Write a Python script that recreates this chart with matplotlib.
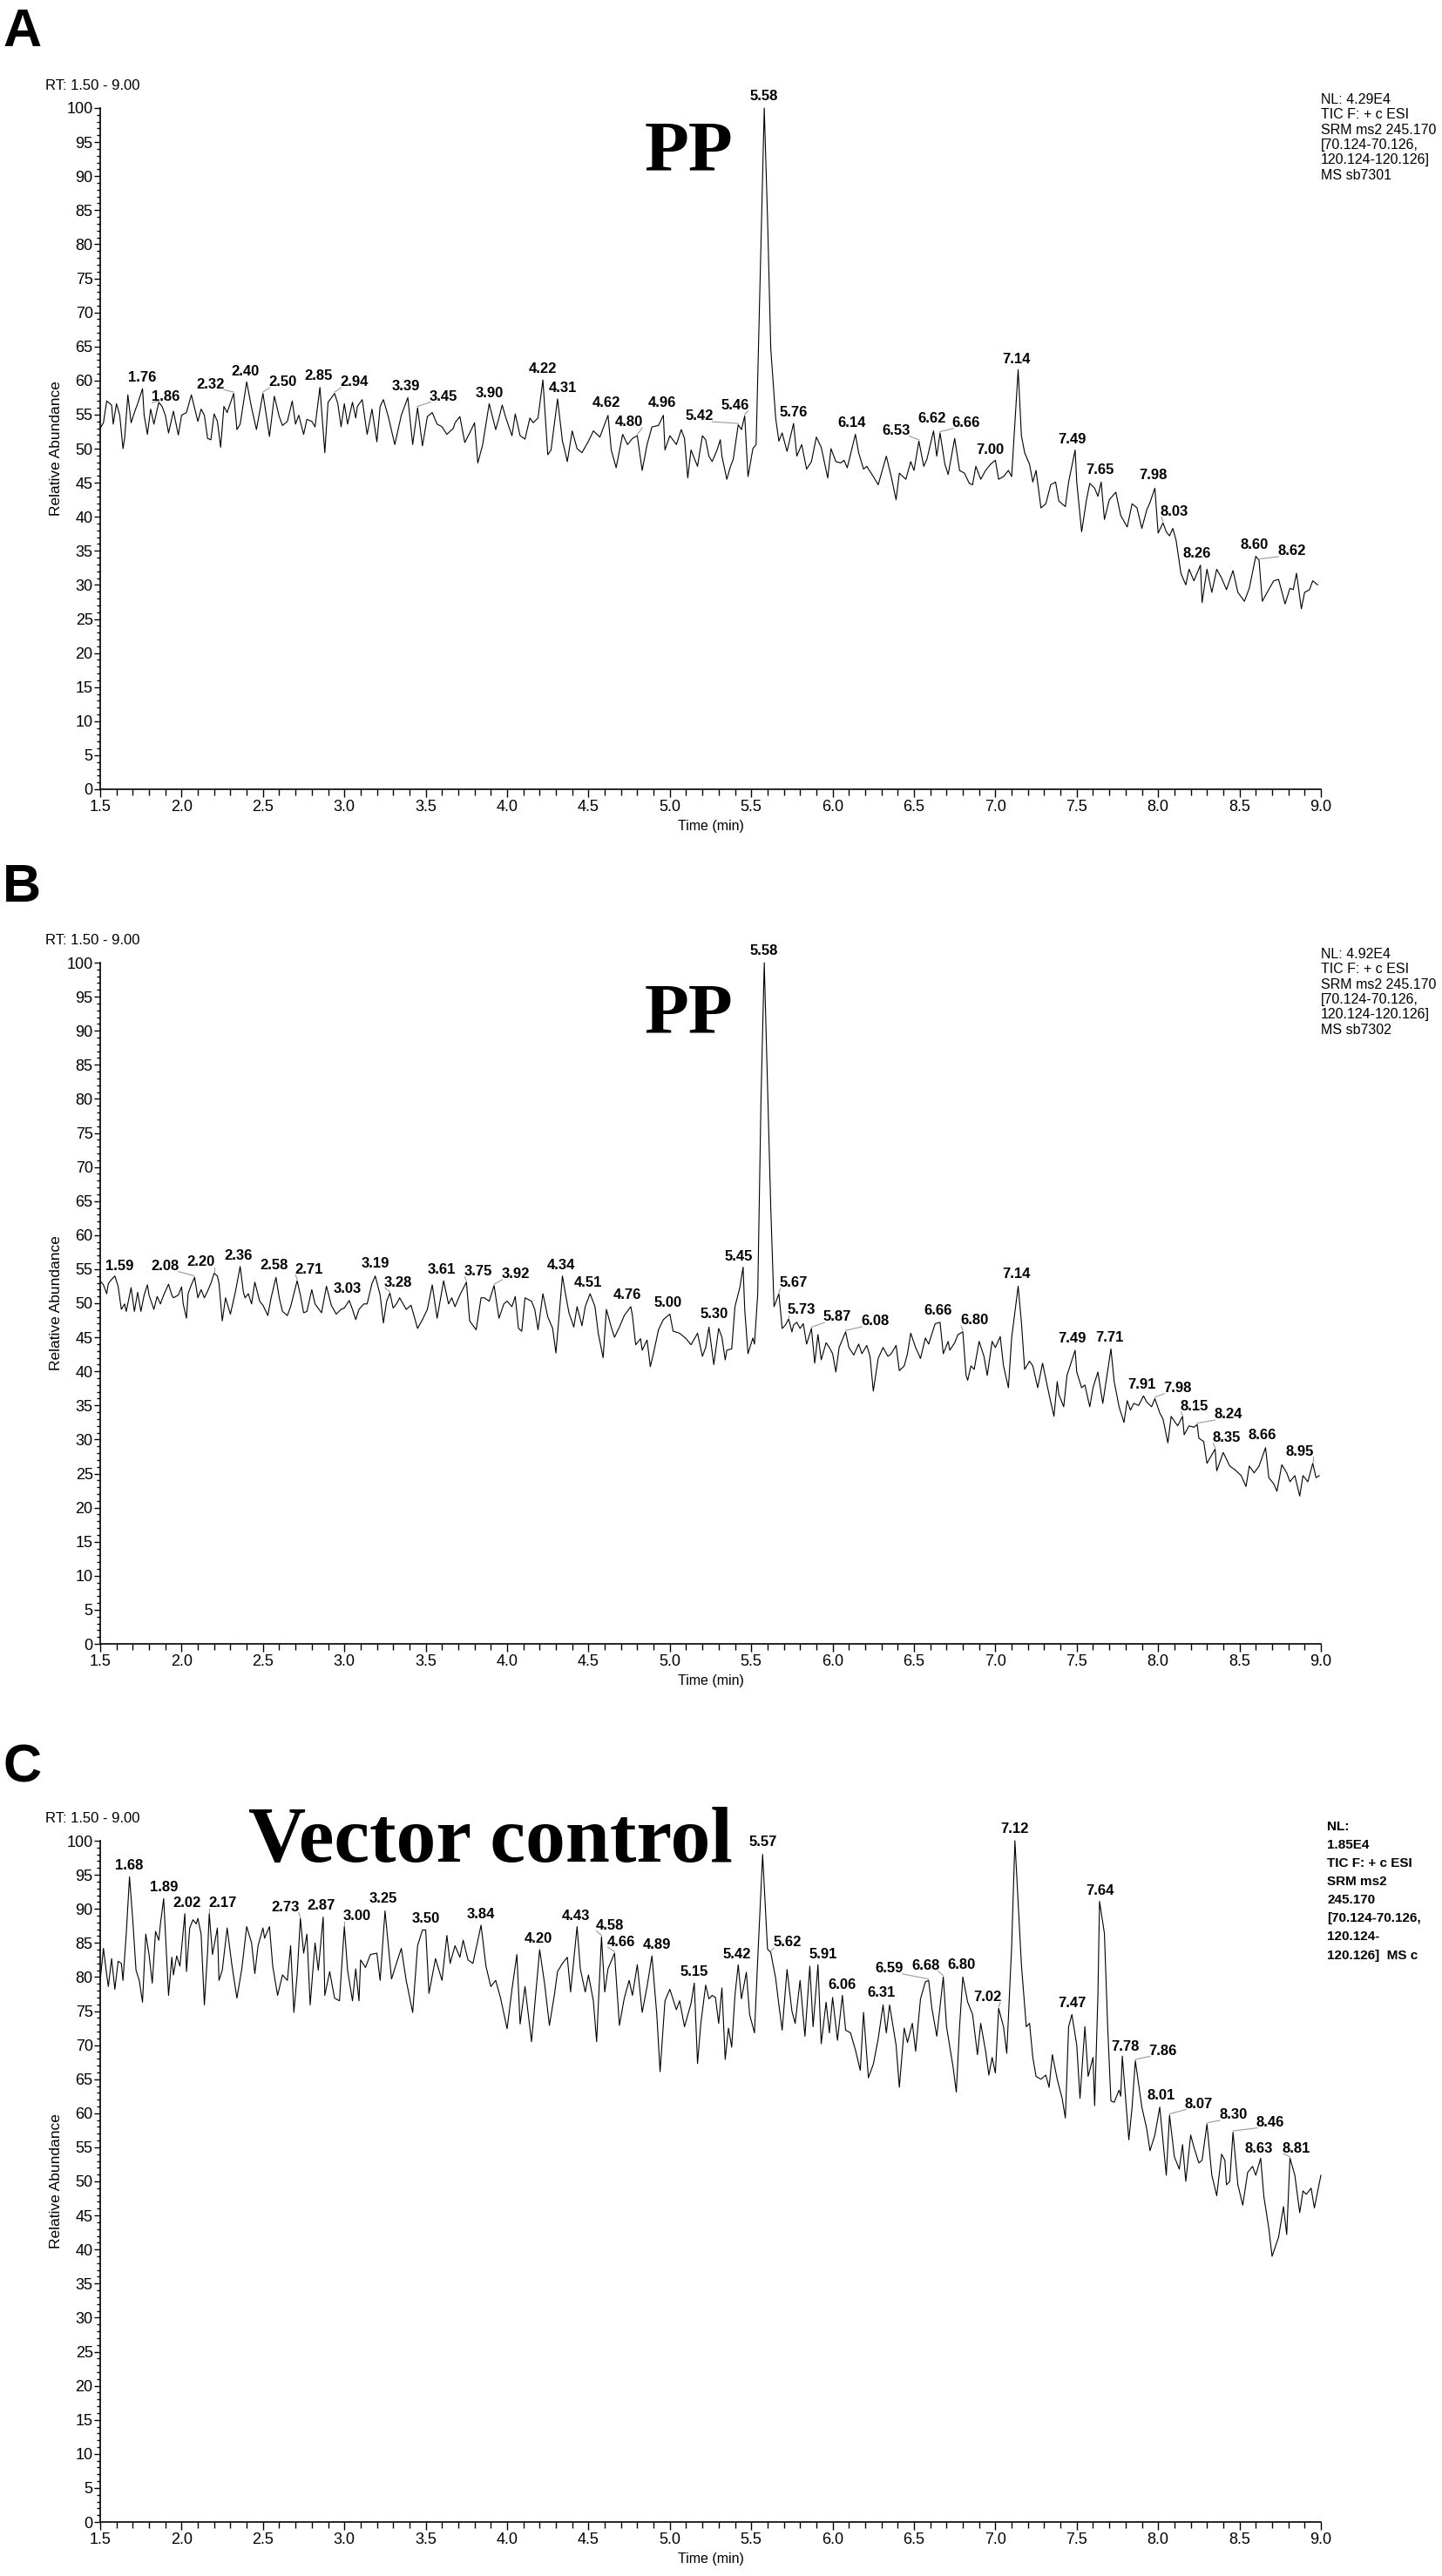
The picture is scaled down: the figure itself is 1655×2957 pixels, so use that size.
import numpy as np
import matplotlib
matplotlib.use('Agg')
import matplotlib.pyplot as plt
from matplotlib.ticker import MultipleLocator, FormatStrFormatter

plt.rcParams['font.family'] = ['Liberation Sans', 'DejaVu Sans']

# ---- panel A trace (time min, relative abundance %) ----
a_pts = [
    (1.50, 53.0), (1.52, 53.8), (1.54, 57.0), (1.57, 56.4), (1.58, 53.6), (1.60, 56.6), (1.62, 54.9),
    (1.64, 50.0), (1.65, 51.5), (1.67, 57.9), (1.69, 53.8), (1.71, 55.3), (1.73, 56.6), (1.76, 58.8),
    (1.77, 54.9), (1.79, 52.1), (1.81, 55.8), (1.83, 53.6), (1.86, 56.8), (1.88, 56.2), (1.90, 54.9),
    (1.92, 52.3), (1.95, 55.5), (1.98, 52.0), (2.00, 54.9), (2.03, 55.3), (2.06, 57.9), (2.10, 54.0),
    (2.12, 55.8), (2.14, 54.9), (2.16, 51.5), (2.18, 51.3), (2.20, 55.1), (2.22, 54.0), (2.24, 50.2),
    (2.26, 56.2), (2.28, 55.3), (2.32, 58.1), (2.34, 52.8), (2.36, 53.6), (2.40, 59.8), (2.43, 56.0),
    (2.46, 52.8), (2.50, 58.1), (2.54, 51.8), (2.57, 57.7), (2.60, 54.7), (2.62, 53.4), (2.65, 54.0),
    (2.68, 57.0), (2.70, 53.6), (2.72, 54.9), (2.75, 52.1), (2.77, 54.3), (2.80, 54.0), (2.82, 53.2),
    (2.85, 59.0), (2.88, 49.4), (2.90, 56.8), (2.94, 58.1), (2.96, 56.6), (2.98, 53.2), (3.00, 56.6),
    (3.02, 53.6), (3.05, 56.8), (3.07, 54.5), (3.08, 56.2), (3.11, 57.2), (3.14, 52.1), (3.17, 55.8),
    (3.20, 51.0), (3.22, 56.2), (3.24, 57.2), (3.27, 54.7), (3.31, 50.6), (3.35, 54.9), (3.39, 57.5),
    (3.42, 50.6), (3.45, 56.0), (3.48, 50.4), (3.51, 54.7), (3.54, 55.3), (3.57, 53.6), (3.60, 53.2),
    (3.63, 52.1), (3.67, 53.0), (3.68, 53.8), (3.71, 54.7), (3.74, 50.9), (3.77, 52.3), (3.80, 53.8),
    (3.82, 47.9), (3.85, 50.6), (3.89, 56.6), (3.93, 52.8), (3.95, 54.5), (3.97, 56.4), (3.99, 54.7),
    (4.03, 51.9), (4.05, 55.1), (4.08, 51.9), (4.11, 51.4), (4.14, 54.5), (4.16, 53.8), (4.19, 54.5),
    (4.22, 60.1), (4.25, 49.1), (4.27, 49.8), (4.31, 57.3), (4.34, 51.1), (4.35, 50.2), (4.37, 48.1),
    (4.40, 52.6), (4.43, 50.0), (4.46, 49.4), (4.50, 51.1), (4.53, 52.6), (4.57, 51.7), (4.62, 54.9),
    (4.64, 49.8), (4.67, 47.2), (4.71, 52.1), (4.74, 50.6), (4.77, 51.5), (4.80, 51.9), (4.83, 46.8),
    (4.86, 50.6), (4.89, 53.2), (4.93, 53.4), (4.96, 54.9), (4.97, 49.8), (5.00, 51.9), (5.04, 50.6),
    (5.07, 52.8), (5.09, 51.5), (5.11, 45.7), (5.13, 49.8), (5.17, 47.4), (5.20, 51.9), (5.22, 51.3),
    (5.24, 48.9), (5.26, 48.1), (5.29, 49.8), (5.31, 51.3), (5.32, 48.9), (5.35, 45.5), (5.37, 47.2),
    (5.39, 48.5), (5.42, 53.5), (5.44, 52.8), (5.46, 54.8), (5.48, 45.9), (5.49, 47.2), (5.51, 50.0),
    (5.53, 50.6), (5.56, 80.0), (5.58, 100.0), (5.60, 84.0), (5.62, 64.7), (5.65, 54.5), (5.67, 51.1),
    (5.69, 52.3), (5.72, 49.6), (5.76, 53.7), (5.78, 48.9), (5.81, 50.6), (5.84, 47.0), (5.87, 48.1),
    (5.90, 51.7), (5.93, 50.2), (5.97, 45.7), (5.99, 50.0), (6.02, 48.1), (6.05, 47.9), (6.07, 48.3),
    (6.09, 47.2), (6.14, 52.1), (6.16, 49.4), (6.19, 47.0), (6.21, 47.4), (6.25, 45.9), (6.28, 44.7),
    (6.30, 46.4), (6.33, 48.9), (6.36, 45.9), (6.39, 42.5), (6.41, 46.4), (6.45, 45.5), (6.48, 48.1),
    (6.50, 46.8), (6.53, 51.1), (6.56, 47.4), (6.58, 48.5), (6.62, 52.6), (6.64, 48.9), (6.66, 52.3),
    (6.69, 47.7), (6.71, 46.2), (6.75, 51.5), (6.78, 46.8), (6.81, 46.4), (6.84, 44.9), (6.86, 44.7),
    (6.88, 47.4), (6.91, 45.5), (6.94, 46.8), (6.97, 47.7), (7.00, 48.3), (7.02, 45.5), (7.05, 45.9),
    (7.08, 46.8), (7.10, 45.9), (7.14, 61.6), (7.16, 51.9), (7.18, 49.4), (7.21, 47.7), (7.23, 45.1),
    (7.25, 46.8), (7.28, 41.3), (7.31, 41.9), (7.34, 44.7), (7.37, 45.1), (7.39, 42.3), (7.43, 41.5),
    (7.45, 45.1), (7.49, 49.8), (7.50, 45.1), (7.53, 37.8), (7.56, 42.5), (7.58, 44.9), (7.61, 44.2),
    (7.63, 43.0), (7.65, 45.1), (7.67, 39.6), (7.70, 42.5), (7.74, 43.6), (7.77, 40.2), (7.81, 38.5),
    (7.84, 41.9), (7.87, 41.3), (7.90, 38.3), (7.93, 41.0), (7.95, 42.1), (7.98, 44.2), (8.00, 37.6),
    (8.03, 39.1), (8.05, 37.8), (8.07, 37.2), (8.09, 38.3), (8.11, 36.6), (8.14, 31.7), (8.17, 30.0),
    (8.19, 32.3), (8.22, 30.6), (8.26, 32.9), (8.27, 27.4), (8.30, 32.3), (8.33, 28.9), (8.36, 32.3),
    (8.39, 31.0), (8.42, 29.3), (8.46, 32.1), (8.49, 28.9), (8.53, 27.6), (8.56, 29.5), (8.60, 34.2),
    (8.62, 33.6), (8.64, 27.6), (8.67, 28.9), (8.71, 30.6), (8.74, 30.8), (8.78, 27.2), (8.81, 29.5),
    (8.83, 29.3), (8.85, 31.7), (8.88, 26.5), (8.90, 28.9), (8.93, 29.3), (8.95, 30.6), (8.98, 30.0),
]
a_lab = [1.76, 1.86, 2.32, 2.40, 2.50, 2.85, 2.94, 3.39, 3.45, 3.90, 4.22, 4.31, 4.62, 4.80, 4.96, 5.42,
         5.46, 5.58, 5.76, 6.14, 6.53, 6.62, 6.66, 7.00, 7.14, 7.49, 7.65, 7.98, 8.03, 8.26, 8.60, 8.62]
a_lab_x = [1.76, 1.90, 2.18, 2.39, 2.62, 2.84, 3.06, 3.38, 3.61, 3.89, 4.22, 4.34, 4.61, 4.75, 4.95, 5.18,
           5.40, 5.58, 5.76, 6.12, 6.39, 6.61, 6.82, 6.97, 7.13, 7.47, 7.64, 7.97, 8.10, 8.24, 8.59, 8.82]
a_lab_y = [59.5, 56.6, 58.5, 60.4, 58.8, 59.7, 58.8, 58.2, 56.7, 57.2, 60.8, 57.9, 55.7, 52.9, 55.7, 53.8,
           55.4, 100.8, 54.4, 52.8, 51.7, 53.4, 52.8, 48.8, 62.2, 50.4, 45.9, 45.1, 39.8, 33.6, 34.9, 34.0]

# ---- panel B trace ----
b_pts = [
    (1.50, 53.3), (1.52, 52.7), (1.54, 51.4), (1.55, 52.9), (1.57, 53.5), (1.59, 54.0), (1.61, 52.5),
    (1.63, 49.1), (1.65, 49.9), (1.66, 48.8), (1.69, 52.3), (1.71, 48.8), (1.73, 51.6), (1.75, 48.8),
    (1.77, 51.2), (1.79, 52.7), (1.80, 51.2), (1.83, 49.1), (1.85, 51.0), (1.87, 49.9), (1.89, 51.2),
    (1.92, 52.8), (1.94, 51.2), (1.95, 50.8), (1.98, 51.2), (2.00, 52.4), (2.01, 49.9), (2.03, 47.8),
    (2.04, 51.4), (2.06, 52.7), (2.08, 53.8), (2.10, 50.8), (2.12, 52.0), (2.14, 50.8), (2.16, 51.8),
    (2.18, 52.9), (2.20, 54.4), (2.22, 54.0), (2.23, 52.9), (2.25, 47.4), (2.27, 50.8), (2.30, 48.4),
    (2.33, 51.6), (2.36, 55.4), (2.38, 51.6), (2.39, 50.8), (2.41, 51.4), (2.43, 49.9), (2.45, 53.1),
    (2.48, 50.3), (2.50, 49.7), (2.53, 48.2), (2.55, 50.8), (2.58, 53.8), (2.60, 50.8), (2.62, 48.8),
    (2.65, 48.2), (2.67, 49.5), (2.71, 53.3), (2.73, 51.2), (2.75, 48.6), (2.77, 48.8), (2.80, 52.0),
    (2.82, 49.9), (2.86, 48.6), (2.89, 52.5), (2.92, 49.7), (2.95, 48.4), (2.98, 49.1), (3.00, 49.3),
    (3.03, 50.4), (3.05, 49.1), (3.07, 47.6), (3.09, 49.1), (3.12, 49.9), (3.14, 49.9), (3.17, 52.9),
    (3.19, 54.0), (3.22, 51.2), (3.24, 47.1), (3.26, 50.3), (3.28, 51.5), (3.30, 49.3), (3.32, 49.9),
    (3.34, 50.8), (3.38, 49.1), (3.41, 49.7), (3.45, 46.3), (3.48, 47.6), (3.51, 49.1), (3.54, 52.7),
    (3.57, 47.8), (3.61, 53.3), (3.64, 49.9), (3.66, 50.8), (3.68, 49.5), (3.71, 51.2), (3.75, 53.1),
    (3.77, 47.4), (3.81, 46.1), (3.84, 50.8), (3.86, 50.8), (3.89, 50.3), (3.92, 52.6), (3.95, 47.8),
    (3.98, 49.9), (4.00, 50.3), (4.03, 49.5), (4.05, 51.0), (4.07, 46.3), (4.09, 45.9), (4.11, 50.8),
    (4.15, 50.3), (4.17, 49.1), (4.19, 46.1), (4.22, 51.4), (4.25, 48.0), (4.28, 46.3), (4.30, 42.7),
    (4.34, 54.0), (4.36, 51.2), (4.38, 48.6), (4.41, 46.5), (4.43, 49.5), (4.46, 46.7), (4.48, 49.5),
    (4.51, 51.4), (4.54, 49.5), (4.56, 45.6), (4.59, 42.0), (4.61, 49.1), (4.64, 46.5), (4.66, 45.0),
    (4.69, 46.5), (4.72, 48.2), (4.76, 49.5), (4.77, 48.2), (4.79, 43.9), (4.82, 44.8), (4.83, 43.1),
    (4.86, 44.6), (4.88, 40.7), (4.90, 42.7), (4.93, 46.1), (4.96, 47.6), (5.00, 48.4), (5.02, 45.9),
    (5.06, 45.6), (5.10, 44.8), (5.13, 43.9), (5.17, 45.6), (5.20, 42.2), (5.22, 43.5), (5.24, 46.5),
    (5.27, 41.0), (5.30, 46.3), (5.32, 45.0), (5.34, 41.7), (5.35, 43.1), (5.38, 43.3), (5.40, 49.5),
    (5.43, 52.3), (5.45, 55.3), (5.46, 49.1), (5.48, 42.6), (5.51, 44.9), (5.52, 44.0), (5.54, 51.4),
    (5.56, 80.0), (5.58, 100.0), (5.60, 82.0), (5.62, 64.0), (5.64, 49.5), (5.67, 51.4), (5.69, 46.3),
    (5.71, 46.8), (5.73, 47.7), (5.75, 45.8), (5.76, 46.8), (5.78, 47.2), (5.80, 46.3), (5.82, 47.0),
    (5.84, 44.0), (5.87, 46.3), (5.89, 41.2), (5.91, 45.4), (5.93, 41.7), (5.96, 44.2), (5.98, 43.5),
    (6.00, 42.6), (6.02, 39.9), (6.04, 43.5), (6.08, 45.8), (6.10, 43.5), (6.13, 42.4), (6.16, 44.0),
    (6.18, 42.6), (6.21, 43.8), (6.23, 42.2), (6.25, 37.1), (6.28, 41.9), (6.31, 43.5), (6.34, 42.2),
    (6.36, 42.6), (6.39, 43.8), (6.41, 40.1), (6.44, 40.8), (6.46, 42.6), (6.48, 45.6), (6.51, 43.5),
    (6.54, 41.9), (6.57, 44.9), (6.59, 44.0), (6.63, 47.0), (6.66, 47.2), (6.68, 42.6), (6.71, 44.4),
    (6.72, 43.1), (6.75, 44.2), (6.77, 45.4), (6.80, 45.8), (6.82, 39.4), (6.83, 38.7), (6.85, 40.8),
    (6.87, 40.3), (6.90, 44.4), (6.93, 42.2), (6.95, 39.4), (6.98, 44.4), (7.00, 43.5), (7.03, 45.1),
    (7.05, 40.8), (7.08, 37.6), (7.10, 44.9), (7.14, 52.5), (7.16, 47.2), (7.18, 40.3), (7.21, 41.5),
    (7.23, 40.8), (7.26, 37.6), (7.29, 41.2), (7.31, 38.9), (7.33, 36.6), (7.36, 33.4), (7.38, 38.5),
    (7.39, 36.6), (7.42, 34.8), (7.44, 39.4), (7.49, 43.1), (7.50, 39.9), (7.53, 37.6), (7.55, 38.0),
    (7.58, 34.8), (7.60, 37.6), (7.63, 39.9), (7.66, 35.3), (7.71, 43.3), (7.73, 38.5), (7.76, 34.8),
    (7.79, 32.5), (7.81, 35.7), (7.83, 34.3), (7.85, 35.3), (7.88, 35.0), (7.91, 36.4), (7.93, 35.5),
    (7.96, 34.8), (7.98, 36.0), (8.01, 33.9), (8.03, 33.0), (8.06, 29.5), (8.08, 33.4), (8.12, 32.0),
    (8.15, 33.4), (8.16, 30.7), (8.19, 32.0), (8.22, 31.8), (8.24, 32.2), (8.25, 30.2), (8.28, 29.7),
    (8.30, 26.5), (8.35, 28.6), (8.36, 25.4), (8.40, 28.1), (8.44, 26.1), (8.47, 25.6), (8.51, 24.7),
    (8.54, 23.1), (8.56, 26.1), (8.59, 25.1), (8.62, 26.1), (8.66, 28.8), (8.68, 24.4), (8.71, 23.5),
    (8.73, 22.4), (8.76, 26.3), (8.79, 25.1), (8.81, 23.8), (8.84, 24.7), (8.87, 21.7), (8.89, 24.7),
    (8.92, 23.8), (8.95, 26.5), (8.97, 24.4), (8.99, 24.7),
]
b_lab = [1.59, 2.08, 2.20, 2.36, 2.58, 2.71, 3.03, 3.19, 3.28, 3.61, 3.75, 3.92, 4.34, 4.51, 4.76, 5.00,
         5.30, 5.45, 5.58, 5.67, 5.73, 5.87, 6.08, 6.66, 6.80, 7.14, 7.49, 7.71, 7.91, 7.98, 8.15, 8.24,
         8.35, 8.66, 8.95]
b_lab_x = [1.62, 1.90, 2.12, 2.35, 2.57, 2.78, 3.02, 3.19, 3.33, 3.60, 3.82, 4.05, 4.33, 4.50, 4.74, 4.99,
           5.27, 5.42, 5.58, 5.76, 5.81, 6.03, 6.26, 6.65, 6.87, 7.13, 7.47, 7.70, 7.90, 8.12, 8.22, 8.43,
           8.42, 8.64, 8.87]
b_lab_y = [54.5, 54.5, 55.1, 56.0, 54.6, 54.0, 51.2, 54.8, 52.1, 54.0, 53.7, 53.3, 54.6, 52.0, 50.3, 49.1,
           47.4, 55.9, 100.8, 52.0, 48.1, 47.0, 46.4, 47.9, 46.5, 53.3, 43.8, 44.0, 37.1, 36.6, 33.9, 32.7,
           29.3, 29.7, 27.3]

# ---- panel C trace ----
c_pts = [
    (1.50, 79.5), (1.52, 84.2), (1.54, 80.3), (1.55, 78.6), (1.57, 82.7), (1.59, 78.2), (1.61, 82.3),
    (1.63, 82.0), (1.64, 79.5), (1.66, 86.3), (1.68, 94.7), (1.70, 88.4), (1.72, 81.0), (1.74, 79.5),
    (1.76, 76.3), (1.78, 86.3), (1.80, 83.3), (1.82, 79.1), (1.84, 86.7), (1.86, 85.4), (1.87, 87.8),
    (1.89, 91.5), (1.92, 77.3), (1.94, 82.9), (1.95, 80.3), (1.97, 83.1), (1.99, 81.6), (2.02, 89.3),
    (2.03, 80.8), (2.05, 87.2), (2.07, 88.4), (2.09, 87.8), (2.10, 88.6), (2.12, 86.3), (2.14, 75.9),
    (2.16, 83.7), (2.17, 89.3), (2.19, 83.3), (2.22, 87.2), (2.23, 79.5), (2.25, 81.0), (2.28, 87.2),
    (2.31, 81.6), (2.34, 76.9), (2.37, 81.2), (2.40, 87.4), (2.43, 85.0), (2.45, 80.5), (2.47, 84.6),
    (2.50, 87.2), (2.51, 85.7), (2.54, 87.4), (2.56, 81.6), (2.59, 77.3), (2.62, 80.3), (2.65, 79.5),
    (2.67, 84.6), (2.69, 74.8), (2.71, 80.3), (2.73, 88.6), (2.75, 83.5), (2.77, 86.3), (2.79, 75.9),
    (2.82, 85.0), (2.84, 81.0), (2.87, 88.8), (2.88, 77.3), (2.91, 80.8), (2.94, 76.9), (2.97, 76.5),
    (3.00, 87.4), (3.02, 81.0), (3.05, 76.5), (3.07, 81.2), (3.09, 76.5), (3.10, 82.5), (3.13, 81.4),
    (3.16, 83.3), (3.20, 83.5), (3.22, 79.5), (3.25, 89.7), (3.29, 79.7), (3.32, 82.0), (3.35, 84.2),
    (3.38, 79.5), (3.42, 74.8), (3.45, 84.6), (3.48, 86.9), (3.50, 86.9), (3.52, 77.6), (3.56, 82.7),
    (3.60, 79.5), (3.63, 86.1), (3.65, 82.0), (3.68, 84.6), (3.71, 82.9), (3.73, 85.4), (3.76, 82.5),
    (3.79, 82.0), (3.82, 85.4), (3.84, 87.6), (3.87, 81.6), (3.90, 78.6), (3.93, 79.5), (3.96, 76.9),
    (4.00, 72.4), (4.03, 78.2), (4.06, 83.3), (4.08, 73.1), (4.11, 78.6), (4.15, 70.5), (4.20, 84.0),
    (4.23, 79.1), (4.26, 72.9), (4.29, 77.3), (4.31, 80.8), (4.34, 82.0), (4.37, 82.9), (4.39, 77.8),
    (4.43, 87.4), (4.45, 81.2), (4.48, 77.8), (4.50, 80.3), (4.53, 76.5), (4.55, 70.5), (4.58, 85.9),
    (4.60, 77.8), (4.62, 81.2), (4.66, 83.5), (4.69, 72.9), (4.72, 76.9), (4.75, 79.5), (4.77, 77.3),
    (4.80, 81.8), (4.83, 74.8), (4.86, 78.6), (4.89, 83.1), (4.92, 74.4), (4.94, 66.1), (4.97, 76.5),
    (5.00, 78.2), (5.04, 75.2), (5.06, 76.5), (5.09, 72.7), (5.13, 76.1), (5.15, 79.1), (5.17, 67.3),
    (5.19, 73.1), (5.22, 78.8), (5.24, 76.8), (5.26, 77.3), (5.28, 77.0), (5.30, 73.2), (5.32, 78.4),
    (5.34, 67.9), (5.36, 72.5), (5.38, 69.7), (5.40, 77.3), (5.42, 81.8), (5.44, 76.8), (5.47, 80.7),
    (5.49, 74.5), (5.50, 73.6), (5.52, 71.8), (5.54, 82.7), (5.57, 98.0), (5.60, 84.1), (5.62, 83.6),
    (5.65, 79.8), (5.67, 75.9), (5.69, 72.2), (5.72, 81.1), (5.75, 75.0), (5.77, 73.2), (5.80, 79.5),
    (5.83, 71.3), (5.86, 81.6), (5.88, 72.7), (5.91, 81.8), (5.93, 70.2), (5.96, 76.3), (5.98, 71.8),
    (6.00, 77.0), (6.03, 70.7), (6.06, 77.3), (6.08, 72.2), (6.11, 71.8), (6.14, 69.3), (6.17, 66.3),
    (6.19, 74.8), (6.22, 65.2), (6.25, 67.2), (6.28, 70.9), (6.31, 75.9), (6.33, 71.8), (6.35, 75.9),
    (6.39, 70.0), (6.41, 63.8), (6.44, 72.5), (6.46, 70.4), (6.49, 73.2), (6.51, 69.1), (6.54, 76.8),
    (6.57, 79.3), (6.59, 79.5), (6.61, 75.4), (6.64, 71.3), (6.68, 80.0), (6.70, 72.7), (6.74, 66.8),
    (6.76, 63.1), (6.78, 72.7), (6.80, 80.0), (6.83, 76.3), (6.86, 74.5), (6.89, 68.6), (6.91, 73.2),
    (6.94, 69.1), (6.96, 65.6), (6.98, 68.2), (7.00, 65.9), (7.02, 75.4), (7.05, 72.7), (7.07, 68.8),
    (7.10, 84.5), (7.12, 100.0), (7.16, 81.8), (7.19, 72.7), (7.21, 73.2), (7.23, 68.2), (7.25, 65.4),
    (7.28, 65.0), (7.31, 65.6), (7.33, 63.8), (7.35, 68.6), (7.38, 65.0), (7.41, 62.2), (7.43, 59.3),
    (7.45, 72.7), (7.47, 74.5), (7.50, 70.0), (7.52, 62.2), (7.55, 72.7), (7.57, 65.4), (7.60, 68.2),
    (7.61, 61.1), (7.63, 77.3), (7.64, 91.1), (7.67, 86.4), (7.69, 72.7), (7.71, 61.8), (7.73, 61.6),
    (7.76, 63.4), (7.77, 62.5), (7.78, 68.4), (7.82, 56.1), (7.84, 60.9), (7.86, 67.7), (7.90, 60.9),
    (7.93, 57.7), (7.95, 54.5), (7.98, 56.8), (8.01, 60.9), (8.05, 50.9), (8.07, 59.7), (8.10, 53.6),
    (8.13, 51.8), (8.15, 55.4), (8.17, 50.0), (8.20, 56.8), (8.22, 55.0), (8.25, 52.7), (8.27, 53.1),
    (8.30, 58.4), (8.33, 50.9), (8.36, 47.9), (8.39, 54.0), (8.41, 53.1), (8.42, 49.5), (8.44, 50.0),
    (8.46, 57.2), (8.49, 49.5), (8.52, 46.5), (8.55, 51.3), (8.58, 52.2), (8.60, 50.9), (8.63, 53.4),
    (8.65, 47.7), (8.68, 43.1), (8.70, 39.0), (8.74, 41.8), (8.77, 46.3), (8.79, 42.2), (8.81, 53.4),
    (8.84, 50.9), (8.87, 45.4), (8.89, 48.6), (8.91, 48.1), (8.94, 49.0), (8.96, 46.1), (9.00, 50.9),
]
c_lab = [1.68, 1.89, 2.02, 2.17, 2.73, 2.87, 3.00, 3.25, 3.50, 3.84, 4.20, 4.43, 4.58, 4.66, 4.89, 5.15,
         5.42, 5.57, 5.62, 5.91, 6.06, 6.31, 6.59, 6.68, 6.80, 7.02, 7.12, 7.47, 7.64, 7.78, 7.86, 8.01,
         8.07, 8.30, 8.46, 8.63, 8.81]
c_lab_x = [1.68, 1.89, 2.03, 2.25, 2.64, 2.86, 3.08, 3.24, 3.50, 3.84, 4.19, 4.42, 4.63, 4.70, 4.92, 5.15,
           5.41, 5.57, 5.72, 5.94, 6.06, 6.30, 6.35, 6.57, 6.79, 6.95, 7.12, 7.47, 7.64, 7.80, 8.03, 8.02,
           8.25, 8.46, 8.69, 8.62, 8.85]
c_lab_y = [95.4, 92.2, 89.9, 89.9, 89.3, 89.5, 88.0, 90.5, 87.6, 88.2, 84.6, 88.0, 86.6, 84.2, 83.7, 79.8,
           82.3, 98.9, 84.1, 82.3, 77.9, 76.7, 80.3, 80.7, 80.8, 76.1, 100.8, 75.2, 91.7, 68.8, 68.2, 61.6,
           60.4, 58.8, 57.7, 53.9, 53.9]

a_info = "NL: 4.29E4\nTIC F: + c ESI\nSRM ms2 245.170\n[70.124-70.126,\n120.124-120.126]\nMS sb7301"
b_info = "NL: 4.92E4\nTIC F: + c ESI\nSRM ms2 245.170\n[70.124-70.126,\n120.124-120.126]\nMS sb7302"
c_info = "NL:\n1.85E4\nTIC F: + c ESI\nSRM ms2\n245.170\n[70.124-70.126,\n120.124-\n120.126]  MS c"

W, H = 1656, 2957
fig = plt.figure(figsize=(W / 100, H / 100), dpi=100)

serif = ['Liberation Serif', 'DejaVu Serif']


def panel(bottom_px, pts, lab, lab_x, lab_y):
    ax = fig.add_axes([115 / W, 1 - bottom_px / H, 1401 / W, 782 / H])
    t, v = zip(*pts)
    t = np.array(t)
    v = np.array(v)
    ax.plot(t, v, color='black', lw=0.8, clip_on=False)
    ax.set_xlim(1.5, 9.0)
    ax.set_ylim(0, 100)
    for s in ['top', 'right']:
        ax.spines[s].set_visible(False)
    for s in ['left', 'bottom']:
        ax.spines[s].set_linewidth(1.2)
    ax.xaxis.set_major_locator(MultipleLocator(0.5))
    ax.xaxis.set_minor_locator(MultipleLocator(0.1))
    ax.xaxis.set_major_formatter(FormatStrFormatter('%.1f'))
    ax.yaxis.set_major_locator(MultipleLocator(5))
    ax.yaxis.set_minor_locator(MultipleLocator(1))
    ax.tick_params(axis='y', which='major', length=5, width=1, pad=1, labelsize=13)
    ax.tick_params(axis='y', which='minor', length=3, width=1)
    ax.tick_params(axis='x', which='major', length=6.5, width=1, pad=2, labelsize=13)
    ax.tick_params(axis='x', which='minor', length=5, width=1)
    ax.set_xlabel('Time (min)', fontsize=11.5)
    ax.xaxis.set_label_coords(0.5, -0.045)
    ax.set_ylabel('Relative Abundance', fontsize=12.5)
    ax.yaxis.set_label_coords(-0.031, 0.5)
    ax.text(-0.045, 1.033, 'RT: 1.50 - 9.00', transform=ax.transAxes,
            fontsize=12, ha='left', va='center')

    # peak labels, grey leader line when the label sits away from its peak
    for p, lx, ly in zip(lab, lab_x, lab_y):
        pv = np.interp(p, t, v)
        ax.text(lx, ly, '%.2f' % p, ha='center', va='bottom',
                fontsize=12, fontweight='bold')
        if abs(lx - p) > 0.035:
            sgn = 1 if lx > p else -1
            ax.plot([p, lx - sgn * 0.08], [pv + 0.2, ly + 0.15],
                    color='#9a9a9a', lw=0.8, clip_on=False)
    return ax


axA = panel(906, a_pts, a_lab, a_lab_x, a_lab_y)
axB = panel(1887, b_pts, b_lab, b_lab_x, b_lab_y)
axC = panel(2895, c_pts, c_lab, c_lab_x, c_lab_y)

axA.text(9.0, 102.2, a_info, fontsize=11.5, ha='left', va='top', linespacing=1.2)
axB.text(9.0, 102.2, b_info, fontsize=11.5, ha='left', va='top', linespacing=1.2)
axC.text(9.04, 103.0, c_info, fontsize=11, fontweight='bold', ha='left', va='top', linespacing=1.65)

axA.text(5.115, 90.9, 'PP', family=serif, fontsize=60, fontweight='bold', ha='center', va='baseline')
axB.text(5.115, 89.7, 'PP', family=serif, fontsize=60, fontweight='bold', ha='center', va='baseline')
axC.text(3.90, 96.9, 'Vector control', family=serif, fontsize=66, fontweight='bold',
         ha='center', va='baseline')

fig.text(3 / W, 1 - 53 / H, 'A', fontsize=44, fontweight='bold', va='baseline')
fig.text(3 / W, 1 - 1035 / H, 'B', fontsize=44, fontweight='bold', va='baseline')
fig.text(3 / W, 1 - 2045 / H, 'C', fontsize=44, fontweight='bold', va='baseline')

fig.savefig('out.png', dpi=100)
